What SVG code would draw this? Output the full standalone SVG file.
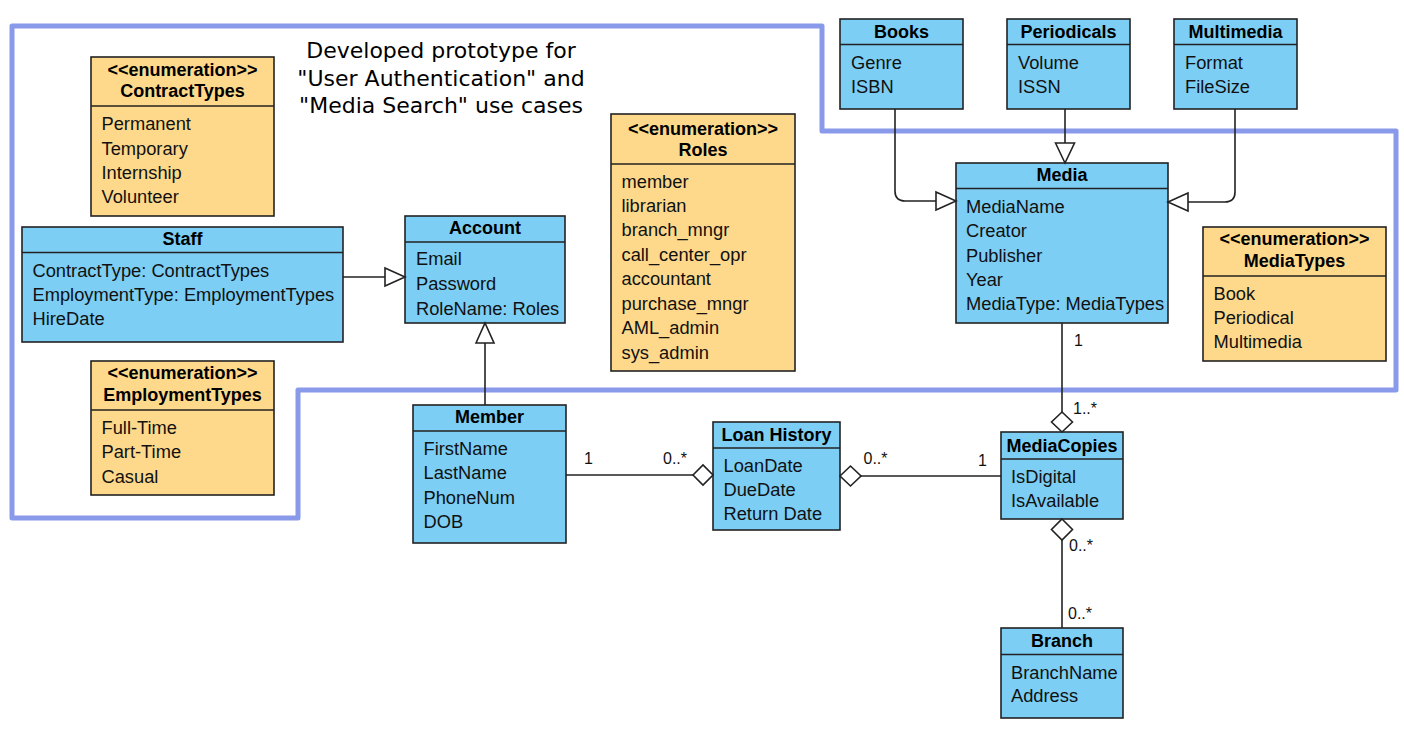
<svg xmlns="http://www.w3.org/2000/svg" width="1404" height="733" viewBox="0 0 1404 733">
<style>
.cls{fill:#7CCEF4;stroke:#222;stroke-width:1.6}
.enum{fill:#FED98B;stroke:#222;stroke-width:1.6}
.div{stroke:#222;stroke-width:1.6}
.t{font-family:"Liberation Sans",Arial,sans-serif;font-size:18.3px;fill:#111}
.h{font-family:"Liberation Sans",Arial,sans-serif;font-size:18px;font-weight:bold;fill:#000;text-anchor:middle}
.st{font-family:"Liberation Sans",Arial,sans-serif;font-size:18px;font-weight:bold;fill:#000;text-anchor:middle}
.lbl{font-family:"Liberation Sans",Arial,sans-serif;font-size:16px;fill:#111}
.ln{fill:none;stroke:#222;stroke-width:1.6}
.hd{fill:#fff;stroke:#222;stroke-width:1.6}
.title{font-family:"DejaVu Sans",Verdana,sans-serif;font-size:22px;fill:#000;text-anchor:middle}
</style>
<rect width="1404" height="733" fill="#fff"/>
<path d="M12,26 H822 V131 H1396 V390 H298 V518 H12 Z" fill="none" stroke="#8A9AEA" stroke-width="5" stroke-linejoin="round"/>
<g id="title">
<text class="title" x="441" y="58">Developed prototype for</text>
<text class="title" x="441" y="85.5">"User Authentication" and</text>
<text class="title" x="441" y="113">"Media Search" use cases</text>
</g>
<g id="ContractTypes">
<rect class="enum" x="91" y="57" width="183" height="159"/>
<line class="div" x1="91" y1="106" x2="274" y2="106"/>
<text class="st" x="182.5" y="76">&lt;&lt;enumeration&gt;&gt;</text>
<text class="h" x="182.5" y="97">ContractTypes</text>
<text class="t" x="101.5" y="130">Permanent</text>
<text class="t" x="101.5" y="154.5">Temporary</text>
<text class="t" x="101.5" y="179">Internship</text>
<text class="t" x="101.5" y="203">Volunteer</text>
</g>
<g id="Staff">
<rect class="cls" x="22" y="227" width="321" height="115"/>
<line class="div" x1="22" y1="252.5" x2="343" y2="252.5"/>
<text class="h" x="182.5" y="245">Staff</text>
<text class="t" x="32.5" y="277">ContractType: ContractTypes</text>
<text class="t" x="32.5" y="301">EmploymentType: EmploymentTypes</text>
<text class="t" x="32.5" y="325">HireDate</text>
</g>
<g id="Account">
<rect class="cls" x="405" y="216" width="160" height="107"/>
<line class="div" x1="405" y1="242" x2="565" y2="242"/>
<text class="h" x="485" y="234">Account</text>
<text class="t" x="416" y="265">Email</text>
<text class="t" x="416" y="290">Password</text>
<text class="t" x="416" y="315">RoleName: Roles</text>
</g>
<g id="EmploymentTypes">
<rect class="enum" x="91" y="361" width="183" height="134"/>
<line class="div" x1="91" y1="410" x2="274" y2="410"/>
<text class="st" x="182.5" y="379">&lt;&lt;enumeration&gt;&gt;</text>
<text class="h" x="182.5" y="400.5">EmploymentTypes</text>
<text class="t" x="101.5" y="434">Full-Time</text>
<text class="t" x="101.5" y="458">Part-Time</text>
<text class="t" x="101.5" y="482.5">Casual</text>
</g>
<g id="Member">
<rect class="cls" x="413" y="405" width="153" height="138"/>
<line class="div" x1="413" y1="431" x2="566" y2="431"/>
<text class="h" x="489.5" y="423">Member</text>
<text class="t" x="423.5" y="455">FirstName</text>
<text class="t" x="423.5" y="479">LastName</text>
<text class="t" x="423.5" y="503.5">PhoneNum</text>
<text class="t" x="423.5" y="528">DOB</text>
</g>
<g id="Roles">
<rect class="enum" x="611" y="114" width="184" height="257"/>
<line class="div" x1="611" y1="164" x2="795" y2="164"/>
<text class="st" x="703" y="134.5">&lt;&lt;enumeration&gt;&gt;</text>
<text class="h" x="703" y="155.5">Roles</text>
<text class="t" x="621.5" y="188">member</text>
<text class="t" x="621.5" y="212">librarian</text>
<text class="t" x="621.5" y="236">branch_mngr</text>
<text class="t" x="621.5" y="261">call_center_opr</text>
<text class="t" x="621.5" y="285">accountant</text>
<text class="t" x="621.5" y="309.5">purchase_mngr</text>
<text class="t" x="621.5" y="334">AML_admin</text>
<text class="t" x="621.5" y="358.5">sys_admin</text>
</g>
<g id="Books">
<rect class="cls" x="840" y="19" width="123" height="90"/>
<line class="div" x1="840" y1="44.5" x2="963" y2="44.5"/>
<text class="h" x="901.5" y="37.5">Books</text>
<text class="t" x="851" y="68.5">Genre</text>
<text class="t" x="851" y="93">ISBN</text>
</g>
<g id="Periodicals">
<rect class="cls" x="1007" y="19" width="123" height="90"/>
<line class="div" x1="1007" y1="44.5" x2="1130" y2="44.5"/>
<text class="h" x="1068.5" y="37.5">Periodicals</text>
<text class="t" x="1018" y="68.5">Volume</text>
<text class="t" x="1018" y="93">ISSN</text>
</g>
<g id="Multimedia">
<rect class="cls" x="1174" y="19" width="123" height="90"/>
<line class="div" x1="1174" y1="44.5" x2="1297" y2="44.5"/>
<text class="h" x="1235.5" y="37.5">Multimedia</text>
<text class="t" x="1185" y="68.5">Format</text>
<text class="t" x="1185" y="93">FileSize</text>
</g>
<g id="Media">
<rect class="cls" x="956" y="163" width="212" height="160"/>
<line class="div" x1="956" y1="188.5" x2="1168" y2="188.5"/>
<text class="h" x="1062" y="181">Media</text>
<text class="t" x="966" y="213">MediaName</text>
<text class="t" x="966" y="237">Creator</text>
<text class="t" x="966" y="261.5">Publisher</text>
<text class="t" x="966" y="285.5">Year</text>
<text class="t" x="966" y="310">MediaType: MediaTypes</text>
</g>
<g id="MediaTypes">
<rect class="enum" x="1203" y="227" width="183" height="134"/>
<line class="div" x1="1203" y1="276" x2="1386" y2="276"/>
<text class="st" x="1294.5" y="245">&lt;&lt;enumeration&gt;&gt;</text>
<text class="h" x="1294.5" y="266.5">MediaTypes</text>
<text class="t" x="1213.5" y="299.5">Book</text>
<text class="t" x="1213.5" y="323.5">Periodical</text>
<text class="t" x="1213.5" y="348">Multimedia</text>
</g>
<g id="LoanHistory">
<rect class="cls" x="713" y="422" width="127" height="108"/>
<line class="div" x1="713" y1="448" x2="840" y2="448"/>
<text class="h" x="776.5" y="440.5">Loan History</text>
<text class="t" x="723.5" y="472">LoanDate</text>
<text class="t" x="723.5" y="496">DueDate</text>
<text class="t" x="723.5" y="520">Return Date</text>
</g>
<g id="MediaCopies">
<rect class="cls" x="1001" y="432" width="122" height="87"/>
<line class="div" x1="1001" y1="459" x2="1123" y2="459"/>
<text class="h" x="1062" y="451.5">MediaCopies</text>
<text class="t" x="1011" y="483">IsDigital</text>
<text class="t" x="1011" y="507">IsAvailable</text>
</g>
<g id="Branch">
<rect class="cls" x="1001" y="628" width="122" height="90"/>
<line class="div" x1="1001" y1="654.5" x2="1123" y2="654.5"/>
<text class="h" x="1062" y="646.5">Branch</text>
<text class="t" x="1011" y="678.5">BranchName</text>
<text class="t" x="1011" y="702">Address</text>
</g>
<g id="connectors">
<path class="ln" d="M343,277 H385"/>
<polygon class="hd" points="385,268 405,277 385,286"/>
<path class="ln" d="M485,405 V343"/>
<polygon class="hd" points="476,343 485,323 494,343"/>
<path class="ln" d="M895,109 V191 Q895,201 905,201 H936"/>
<polygon class="hd" points="936,192 956,201 936,210"/>
<path class="ln" d="M1065,109 V143"/>
<polygon class="hd" points="1055.5,143 1065,163 1074.5,143"/>
<path class="ln" d="M1235,109 V192 Q1235,202 1225,202 H1188"/>
<polygon class="hd" points="1188,193 1168,202 1188,211"/>
<path class="ln" d="M1062,323 V412"/>
<polygon class="hd" points="1062,412 1072.5,422 1062,432 1051.5,422"/>
<path class="ln" d="M566,475 H693"/>
<polygon class="hd" points="693,475 703,465 713,475 703,485"/>
<polygon class="hd" points="840,476 850.5,466 861,476 850.5,486"/>
<path class="ln" d="M861,476 H1001"/>
<polygon class="hd" points="1062,519 1072.5,529.5 1062,540 1051.5,529.5"/>
<path class="ln" d="M1062,540 V628"/>
<text class="lbl" x="1074" y="346">1</text>
<text class="lbl" x="1073" y="413.5">1..*</text>
<text class="lbl" x="584" y="463.5">1</text>
<text class="lbl" x="663" y="463.5">0..*</text>
<text class="lbl" x="863.5" y="463.5">0..*</text>
<text class="lbl" x="978" y="465.5">1</text>
<text class="lbl" x="1069" y="551">0..*</text>
<text class="lbl" x="1068" y="618.5">0..*</text>
</g>
</svg>
